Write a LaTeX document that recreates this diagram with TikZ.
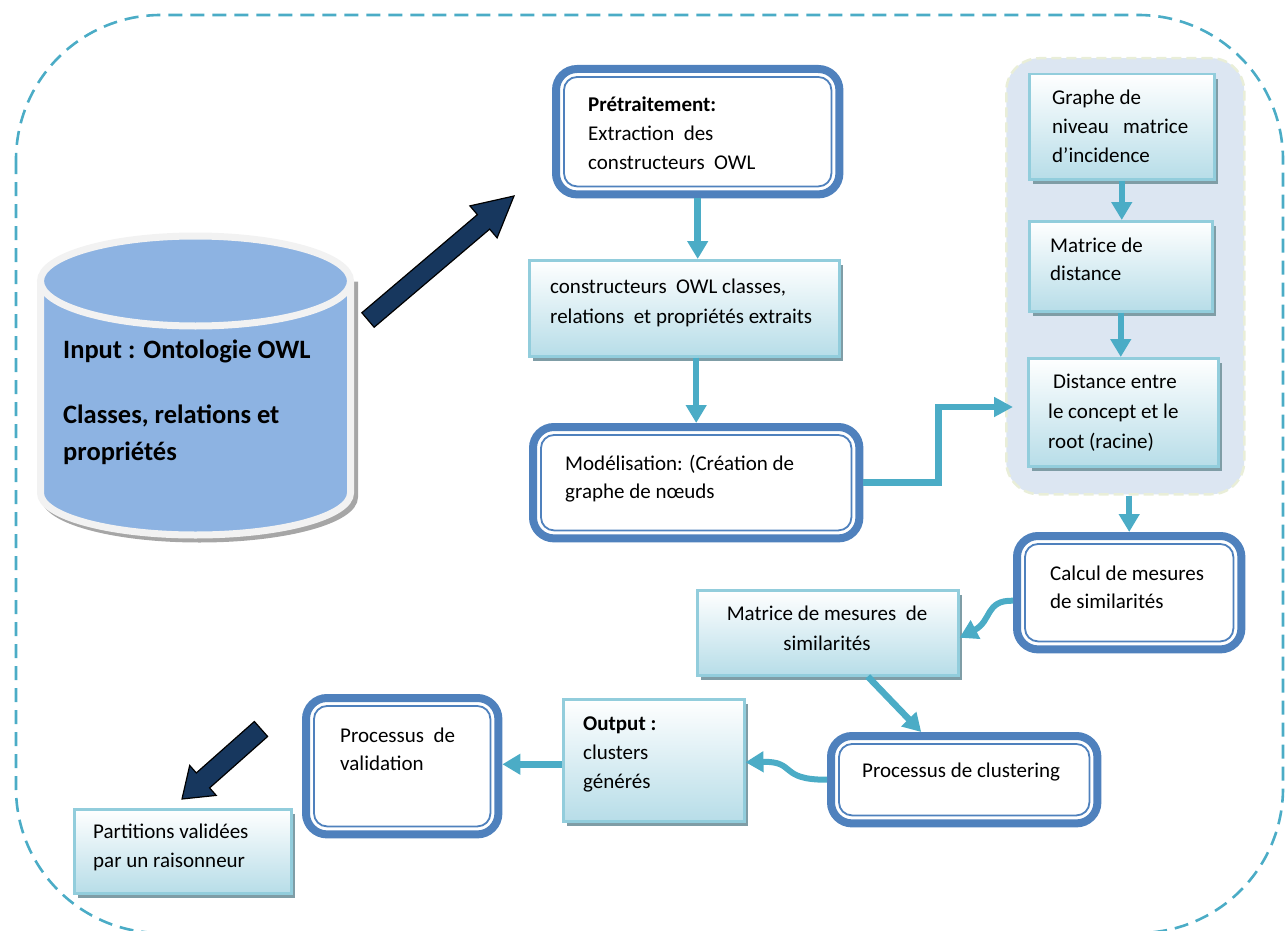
\documentclass[tikz,border=0pt]{standalone}
\usepackage{fontspec}
\setmainfont{Carlito}
\usetikzlibrary{arrows.meta,calc,shadows}

\definecolor{accteal}{HTML}{4BACC6}
\definecolor{frameblue}{HTML}{4F81BD}
\definecolor{navyfill}{HTML}{17375E}
\definecolor{cylfill}{HTML}{8DB3E2}
\definecolor{cylrim}{HTML}{F2F2F2}
\definecolor{cylshadow}{HTML}{A6A6A6}
\definecolor{panelfill}{HTML}{DCE6F2}
\definecolor{panelrim}{HTML}{E9EED8}
\definecolor{gboxrim}{HTML}{92CDDC}
\definecolor{gboxbot}{HTML}{B7DDE8}
\definecolor{gshadow}{HTML}{7F9DA6}

% multi-line text blocks whose baseline is the first line
\newcommand{\linesl}[1]{\begin{tabular}[t]{@{}l@{}}#1\end{tabular}}
\newcommand{\linesc}[1]{\begin{tabular}[t]{@{}c@{}}#1\end{tabular}}

\begin{document}
\begin{tikzpicture}[x=1pt,y=-1pt,
  outerdash/.style={draw=accteal, line width=2.6pt, dash pattern=on 14pt off 8pt, rounded corners=145pt},
  conn/.style={draw=accteal, line width=6.5pt, -{Triangle[width=20pt,length=18pt]}},
  gbox/.style={rectangle, anchor=north west, inner sep=0pt, draw=gboxrim, line width=2.5pt,
    top color=white, bottom color=gboxbot,
    drop shadow={shadow xshift=4pt, shadow yshift=-5pt, fill=gshadow, opacity=1}},
  dblbox/.style={rectangle, anchor=north west, inner sep=0pt, fill=white, rounded corners=25pt},
  framethick/.style={draw=frameblue, line width=8pt, rounded corners=21pt},
  framethin/.style={draw=frameblue, line width=1.8pt, rounded corners=13pt},
  panel/.style={rectangle, anchor=north west, inner sep=0pt, fill=panelfill, draw=panelrim,
    line width=2.5pt, dash pattern=on 10pt off 5pt, rounded corners=33pt},
  txt/.style={inner sep=0pt, anchor=base west, font=\fontsize{21}{29}\selectfont},
  navy/.style={fill=navyfill, draw=black, line width=1.2pt, line join=miter},
]
\useasboundingbox (0,0) rectangle (1285,931);

% dashed frame around the whole process
\draw[outerdash] (16,15) rectangle (1283,933);

% ---- input ontology (cylinder) ----
\begin{scope}[shift={(4,4)}]
  \filldraw[fill=cylshadow, draw=cylshadow, line width=7pt]
    (40.5,281) -- (40.5,493) arc[start angle=180, end angle=0, x radius=155, y radius=42] -- (350.5,281) -- cycle;
\end{scope}
\path[fill=cylfill] (40.5,281) -- (40.5,493) arc[start angle=180, end angle=0, x radius=155, y radius=42] -- (350.5,281) -- cycle;
\draw[draw=cylrim, line width=7pt] (40.5,281) -- (40.5,493) arc[start angle=180, end angle=0, x radius=155, y radius=42] -- (350.5,281);
\filldraw[fill=cylfill, draw=cylrim, line width=7pt] (195.5,281) ellipse[x radius=155, y radius=45];
\node[inner sep=0pt, anchor=base west, font=\fontsize{26.5}{37}\selectfont\bfseries] (cyl-t) at (63,358)
  {\linesl{Input : Ontologie OWL\\[28pt] Classes, relations et\\ propriétés}};

% ---- grouped distance steps ----
\node[panel, minimum width=238, minimum height=436] (grp) at (1005,57) {};
\node[gbox, minimum width=185, minimum height=105] (graphe) at (1028,73) {};
\node[gbox, minimum width=183, minimum height=90] (matdist) at (1028,220) {};
\node[gbox, minimum width=190, minimum height=108] (dist) at (1027,357) {};

% ---- other gradient boxes ----
\node[gbox, minimum width=310, minimum height=96] (constr) at (528,259) {};
\node[gbox, minimum width=261, minimum height=85] (matmes) at (696,589) {};
\node[gbox, minimum width=181, minimum height=122] (output) at (562,698) {};
\node[gbox, minimum width=217, minimum height=84] (part) at (73,808) {};

% ---- framed process boxes ----
\node[dblbox, minimum width=291, minimum height=133] (pre) at (552,65) {};
\node[dblbox, minimum width=334, minimum height=119] (mod) at (529,423) {};
\node[dblbox, minimum width=232, minimum height=121] (calc) at (1013,532) {};
\node[dblbox, minimum width=274, minimum height=95] (clus) at (827,732) {};
\node[dblbox, minimum width=200, minimum height=144] (valid) at (302,694) {};
\foreach \n in {pre,mod,calc,clus,valid}{
  \draw[framethick] ([shift={(4pt,-4pt)}]\n.north west) rectangle ([shift={(-4pt,4pt)}]\n.south east);
  \draw[framethin] ([shift={(12pt,-12pt)}]\n.north west) rectangle ([shift={(-12pt,12pt)}]\n.south east);
}

% ---- texts ----
\node[txt] (pre-t) at (588,112) {\linesl{\textbf{Prétraitement:}\\ Extraction\ \ des\\ constructeurs\ \ OWL}};
\node[txt, font=\fontsize{21}{30}\selectfont] (constr-t) at (550,293) {\linesl{constructeurs\ \ OWL classes,\\ relations\ \ et propriétés extraits}};
\node[txt, font=\fontsize{21}{28}\selectfont] (mod-t) at (565,470) {\linesl{Modélisation: (Création de\\ graphe de nœuds}};
\node[txt] (graphe-t) at (1052,105) {\linesl{Graphe de\\ niveau\ \ \ matrice\\ d’incidence}};
\node[txt, font=\fontsize{21}{28}\selectfont] (matdist-t) at (1050,252) {\linesl{Matrice de\\ distance}};
\node[txt, font=\fontsize{21}{30}\selectfont] (dist-t) at (1048,388) {\linesl{\hspace*{5pt}Distance entre\\ le concept et le\\ root (racine)}};
\node[txt, font=\fontsize{21}{28}\selectfont] (calc-t) at (1050,580) {\linesl{Calcul de mesures\\ de similarités}};
\node[txt, anchor=base, font=\fontsize{21}{30}\selectfont] (matmes-t) at (827,620) {\linesc{Matrice de mesures\ \ de\\ similarités}};
\node[txt] (clus-t) at (862,777) {Processus de clustering};
\node[txt] (output-t) at (583,730) {\linesl{\textbf{Output :}\\ clusters\\ générés}};
\node[txt, font=\fontsize{21}{28}\selectfont] (valid-t) at (340,742) {\linesl{Processus\ \ de\\ validation}};
\node[txt] (part-t) at (93,838) {\linesl{Partitions validées\\ par un raisonneur}};

% ---- connectors ----
\coordinate (grpin) at (1013,407);
\draw[conn] (pre.south) -- (pre.south |- constr.north);
\draw[conn] (mod.north |- constr.south) -- (mod.north);
\draw[conn, -{Triangle[width=19pt,length=19pt]}] (mod.east) -- ++(75,0) |- (grpin);
\draw[conn] (graphe.south) -- (graphe.south |- matdist.north);
\draw[conn] (matdist.south) -- (matdist.south |- dist.north);
\draw[conn] (calc.north |- grp.south) -- (calc.north);
\draw[conn, line width=6pt] ([yshift=-8pt]calc.west) .. controls (985,600) and (992,621) .. ([yshift=-5pt]matmes.east);
\draw[conn] ([xshift=40pt]matmes.south) -- ([xshift=-43pt]clus.north);
\draw[conn, line width=6pt] (clus.west) .. controls (778,780) and (797,761) .. ([yshift=-2pt]output.east);
\draw[conn] ([yshift=-4pt]output.west) -- ([yshift=-4pt]output.west -| valid.east);

% ---- navy block arrows ----
\coordinate (ar1t) at (368,320);
\coordinate (ar1h) at (514,196);
\coordinate (ar1b) at ($(ar1h)!40pt!(ar1t)$);
\draw[navy] ($(ar1t)!9.5pt!90:(ar1h)$) -- ($(ar1b)!9.5pt!-90:(ar1t)$) -- ($(ar1b)!21pt!-90:(ar1t)$)
  -- (ar1h) -- ($(ar1b)!21pt!90:(ar1t)$) -- ($(ar1b)!9.5pt!90:(ar1t)$) -- ($(ar1t)!9.5pt!-90:(ar1h)$) -- cycle;

\coordinate (ar2t) at (261,729);
\coordinate (ar2h) at (182,799);
\coordinate (ar2b) at ($(ar2h)!28pt!(ar2t)$);
\draw[navy] ($(ar2t)!10pt!90:(ar2h)$) -- ($(ar2b)!10pt!-90:(ar2t)$) -- ($(ar2b)!20pt!-90:(ar2t)$)
  -- (ar2h) -- ($(ar2b)!20pt!90:(ar2t)$) -- ($(ar2b)!10pt!90:(ar2t)$) -- ($(ar2t)!10pt!-90:(ar2h)$) -- cycle;
\end{tikzpicture}
\end{document}
